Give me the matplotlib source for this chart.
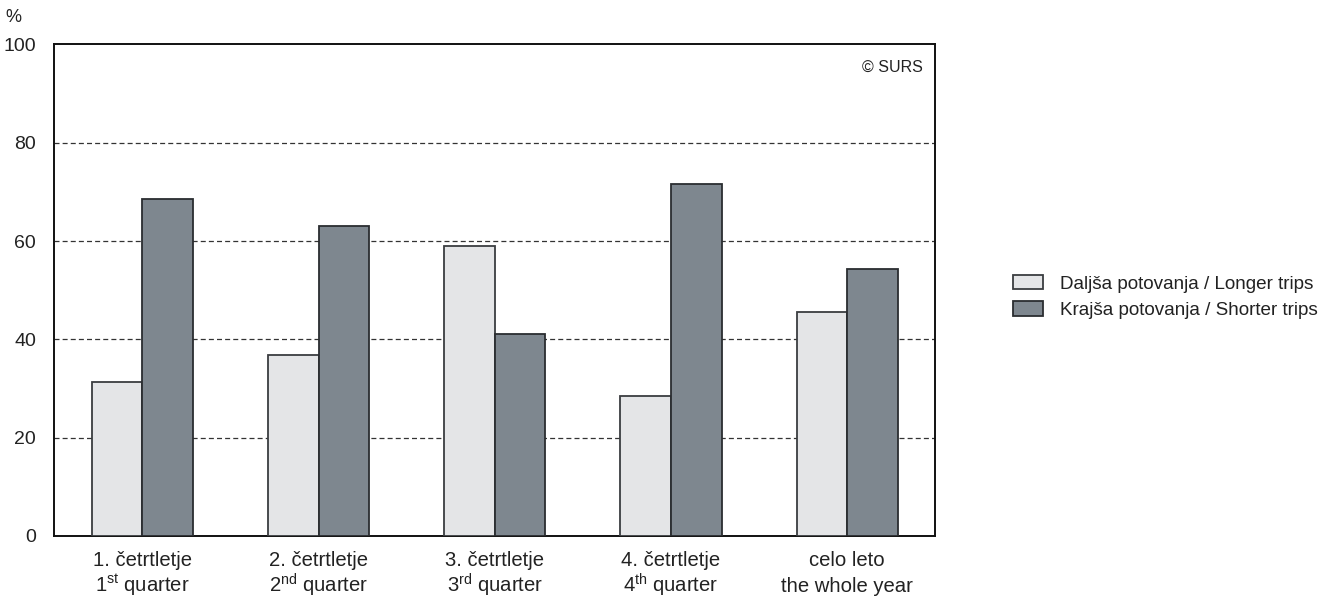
import matplotlib
matplotlib.use('Agg')
import matplotlib.pyplot as plt
import matplotlib.transforms as mtransforms
import numpy as np

# Data
labels_si = ['1. četrtletje', '2. četrtletje', '3. četrtletje', '4. četrtletje', 'celo leto']
labels_en = ['1$^{\\mathrm{st}}$ quarter', '2$^{\\mathrm{nd}}$ quarter', '3$^{\\mathrm{rd}}$ quarter',
             '4$^{\\mathrm{th}}$ quarter', 'the whole year']
longer = [31.4, 36.9, 58.9, 28.4, 45.6]
shorter = [68.6, 63.1, 41.1, 71.6, 54.4]
series_names = ['Daljša potovanja / Longer trips', 'Krajša potovanja / Shorter trips']
yticks = [0, 20, 40, 60, 80, 100]

plt.rcParams['font.family'] = ['Liberation Sans', 'DejaVu Sans']
plt.rcParams['mathtext.fontset'] = 'custom'
plt.rcParams['mathtext.rm'] = 'Liberation Sans'

fig = plt.figure(figsize=(13.37, 5.98), dpi=100)
ax = fig.add_axes([0.0406, 0.1037, 0.659, 0.822])

x = np.arange(len(labels_si))
w = 0.287
ax.bar(x - w / 2, longer, w, color='#e4e5e7', edgecolor='#3a3d40', linewidth=1.3,
       label=series_names[0], zorder=3)
ax.bar(x + w / 2, shorter, w, color='#7e878f', edgecolor='#2a2d30', linewidth=1.3,
       label=series_names[1], zorder=3)

ax.set_xlim(-0.5, len(labels_si) - 0.5)
ax.set_ylim(0, 100)
ax.set_yticks(yticks)
ax.set_xticks(x)
ax.set_xticklabels([])
ax.tick_params(axis='both', length=0, colors='#222222')
ax.tick_params(axis='y', pad=13, labelsize=14)

# two-line category labels, baselines fixed so all columns line up
trans = mtransforms.blended_transform_factory(ax.transData, ax.transAxes)
for xi, l1, l2 in zip(x, labels_si, labels_en):
    ax.text(xi, -0.0611, l1, transform=trans, ha='center', va='baseline',
            fontsize=14.6, color='#222222')
    ax.text(xi, -0.114, l2, transform=trans, ha='center', va='baseline',
            fontsize=14.6, color='#222222')

for v in yticks[1:-1]:
    ax.axhline(v, color='#333333', linestyle=(0, (4, 2.5)), linewidth=0.9, zorder=1)

for s in ax.spines.values():
    s.set_linewidth(1.4)
    s.set_color('#111111')

ax.text(0.986, 0.968, '© SURS', transform=ax.transAxes, ha='right', va='top',
        fontsize=11.5, color='#222222')
fig.text(13 / 1337, 1 - 18 / 598, '%', ha='center', va='center', fontsize=13, color='#222222')

fig.legend(loc='center left', bbox_to_anchor=(996 / 1337, 1 - 297 / 598), frameon=False,
           fontsize=13.6, handlelength=1.6, handleheight=0.8, handletextpad=0.9,
           labelspacing=0.45, labelcolor='#222222')

fig.savefig('out.png', dpi=100)
